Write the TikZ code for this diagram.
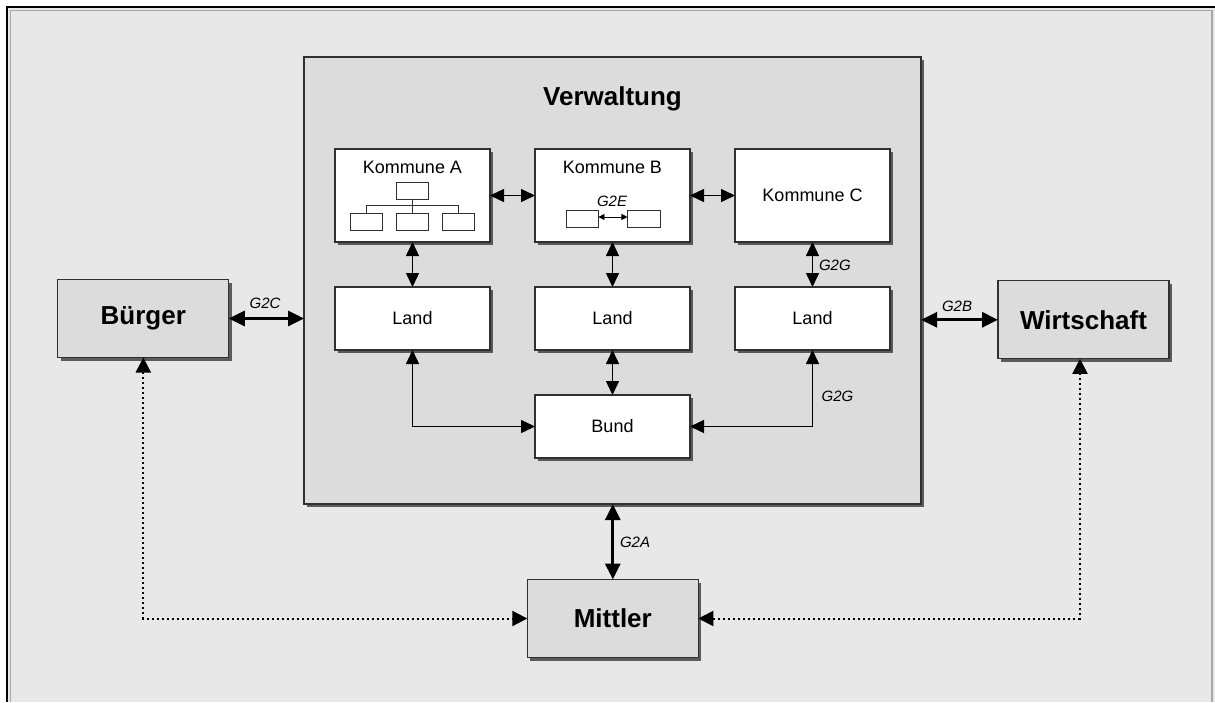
\documentclass[tikz,border=0pt]{standalone}
\usepackage{fontspec}
\setmainfont{Liberation Sans}
\usetikzlibrary{arrows.meta,shadows}
\definecolor{bgcol}{HTML}{E8E8E8}
\definecolor{boxgray}{HTML}{DCDCDC}
\definecolor{edgecol}{HTML}{303030}
\definecolor{framegray}{HTML}{A8A8A8}
\begin{document}
\begin{tikzpicture}[x=1pt,y=-1pt,
  every node/.style={inner sep=0pt, outer sep=0pt},
  boxshadow/.style={drop shadow={shadow xshift=3pt,shadow yshift=-3pt,fill=black,opacity=0.6}},
  inbox/.style={rectangle, draw=edgecol, line width=1.3pt, fill=white, boxshadow,
    minimum width=155pt, minimum height=63pt, font=\fontsize{18}{20}\selectfont},
  actor/.style={rectangle, draw=edgecol, line width=1.3pt, fill=boxgray, boxshadow,
    minimum width=171pt, minimum height=78pt, font=\fontsize{26}{28}\selectfont\bfseries},
  mini/.style={rectangle, draw=edgecol, line width=0.9pt, fill=white, minimum width=32.5pt, minimum height=17pt},
  title/.style={font=\fontsize{18}{20}\selectfont},
  lbl/.style={font=\fontsize{15}{17}\selectfont\itshape},
  arrthin/.style={line width=1.4pt, {Triangle[length=14pt,width=13pt]}-{Triangle[length=14pt,width=13pt]}},
  arrthick/.style={line width=3pt, {Triangle[length=16pt,width=15pt]}-{Triangle[length=16pt,width=15pt]}},
  arrdot/.style={line width=2pt, dash pattern=on 2pt off 3pt, {Triangle[length=15pt,width=15pt]}-{Triangle[length=15pt,width=15pt]}},
  arrmini/.style={line width=0.9pt, {Triangle[length=6pt,width=6pt]}-{Triangle[length=6pt,width=6pt]}},
  orgline/.style={line width=0.9pt, draw=edgecol},
]
\fill[white] (0,0) rectangle (1215,702);
\useasboundingbox (0,0) rectangle (1215,702);
% outer frame
\fill[bgcol] (7,7) rectangle (1215,702);
\draw[black, line width=1.5pt] (7,702) -- (7,7) -- (1215,7);
\draw[framegray, line width=1.5pt] (10.7,702) -- (10.7,10.7) -- (1212,10.7) -- (1212,702);

% Verwaltung
\node[rectangle, draw=edgecol, line width=1.3pt, fill=boxgray, boxshadow,
  minimum width=617pt, minimum height=447pt] (verw) at (612.5,280.5) {};
\node[font=\fontsize{26}{28}\selectfont\bfseries] (verwt) at (612.5,98.5) {Verwaltung};

% Kommunen
\node[inbox, minimum height=93pt] (kA) at (412.5,195.5) {};
\node[inbox, minimum height=93pt] (kB) at (612.5,195.5) {};
\node[inbox, minimum height=93pt] (kC) at (812.5,195.5) {Kommune C};
\node[title] (kAt) at (412.5,167.3) {Kommune A};
\node[title] (kBt) at (612.5,167.3) {Kommune B};

% org chart in Kommune A
\node[mini] (oa0) at (412.3,191.3) {};
\node[mini] (oa1) at (366.2,222.3) {};
\node[mini] (oa2) at (412.3,222.3) {};
\node[mini] (oa3) at (458.5,222.3) {};
\coordinate (oaj) at (412.3,205.7);
\draw[orgline] (oa0.south) -- (oaj);
\draw[orgline] (oa1.north) |- (oaj) -| (oa3.north);
\draw[orgline] (oaj) -- (oa2.north);

% G2E in Kommune B
\node[mini] (ebL) at (582.2,219) {};
\node[mini] (ebR) at (643.7,219) {};
\draw[arrmini] ([yshift=2pt]ebL.east) -- ([yshift=2pt]ebR.west);
\node[lbl] (g2e) at (612,201.5) {G2E};

% Land and Bund
\node[inbox] (lA) at (412.5,318.5) {Land};
\node[inbox] (lB) at (612.5,318.5) {Land};
\node[inbox] (lC) at (812.5,318.5) {Land};
\node[inbox] (bund) at (612.5,426.5) {Bund};

% inner connectors
\draw[arrthin] (kA.east) -- (kB.west);
\draw[arrthin] (kB.east) -- (kC.west);
\draw[arrthin] (kA.south) -- (lA.north);
\draw[arrthin] (kB.south) -- (lB.north);
\draw[arrthin] (kC.south) -- (lC.north);
\node[lbl, anchor=west] (g2g1) at (819,265) {G2G};
\draw[arrthin] (lA.south) |- (bund.west);
\draw[arrthin] (lB.south) -- (bund.north);
\draw[arrthin] (lC.south) |- (bund.east);
\node[lbl, anchor=west] (g2g2) at (821.7,396) {G2G};

% actors
\node[actor] (buerger) at (143.3,318.5) {Bürger};
\node[actor] (wirt) at (1083.5,319.8) {Wirtschaft};
\node[actor] (mittler) at (612.8,618.5) {Mittler};

% outer connectors
\draw[arrthick] (buerger.east) -- (buerger.east -| verw.west);
\node[lbl] (g2c) at (265,303.5) {G2C};
\draw[arrthick] (wirt.west -| verw.east) -- (wirt.west);
\node[lbl] (g2b) at (957,306.5) {G2B};
\draw[arrthick] (mittler.north |- verw.south) -- (mittler.north);
\node[lbl, anchor=west] (g2a) at (620,542.7) {G2A};

\draw[arrdot] (buerger.south) |- (mittler.west);
\draw[arrdot] ([xshift=-3.5pt]wirt.south) |- (mittler.east);
\end{tikzpicture}
\end{document}
